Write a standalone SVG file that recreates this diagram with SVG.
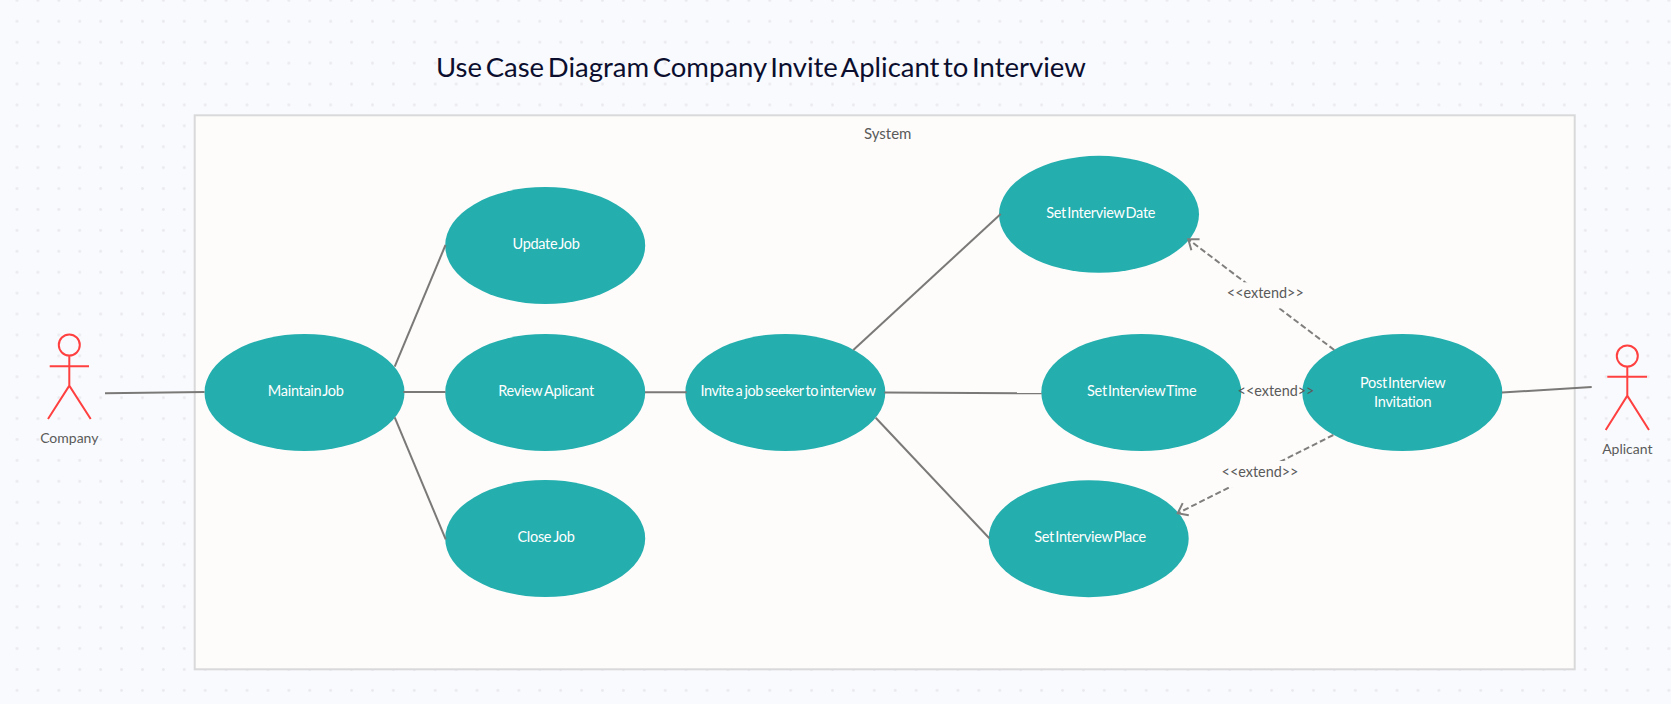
<svg xmlns="http://www.w3.org/2000/svg" width="1671" height="704" viewBox="0 0 1671 704">
<style>
text{font-family:Lato,"Noto Sans","Liberation Sans",sans-serif}
.uc{fill:#24aeae}
.ut{fill:#fff;font-size:14.5px;text-anchor:middle;letter-spacing:-.3px;word-spacing:-2.1px}
.lb{fill:#5a5a5a;font-size:14px;text-anchor:middle}
.ex{font-size:14.4px}
.ln{fill:none;stroke:#7b7977;stroke-width:2}
.ds{fill:none;stroke:#807e7c;stroke-width:2;stroke-dasharray:6 3}
.ac{fill:none;stroke:#ff4040;stroke-width:2}
.bg{fill:#fdfcfb}
</style>
<defs>
<pattern id="dots" patternUnits="userSpaceOnUse" x="6.55" y="-10.05" width="20.91" height="20.91"><circle cx="10.455" cy="10.455" r="1.4" fill="#e9e9ee"/></pattern>
<marker id="open" markerUnits="userSpaceOnUse" markerWidth="16" markerHeight="18" refX="10.5" refY="8" orient="auto"><path d="M1.5,1.2L10.5,8L1.5,14.8" fill="none" stroke="#807e7c" stroke-width="2"/></marker>
</defs>
<rect width="1671" height="704" fill="#f9fafd"/>
<rect width="1671" height="704" fill="url(#dots)"/>
<text x="436" y="77.3" font-size="27.5" fill="#0b0e2e" word-spacing="-3.4" id="title">Use Case Diagram Company Invite Aplicant to Interview</text>
<g id="system">
<rect x="194.7" y="115.3" width="1380" height="554" fill="#fdfcfb" stroke="#d9d9db" stroke-width="2"/>
<text x="887.7" y="139" class="lb" style="font-size:15px">System</text>
</g>
<g id="actor-company">
<circle cx="69.3" cy="345" r="10.5" class="ac"/>
<path d="M69.3,355.5V385.7M49.7,366.3H89M48,419L69.3,385.7L90.7,419" class="ac"/>
<text x="69.3" y="443.3" class="lb">Company</text>
</g>
<g id="actor-aplicant">
<circle cx="1627.3" cy="356" r="10.5" class="ac"/>
<path d="M1627.3,366.5V395.7M1607.3,376.7H1647M1605.7,430L1627.3,395.7L1649,430" class="ac"/>
<text x="1627.3" y="454" class="lb">Aplicant</text>
</g>
<g id="uc-maintain"><ellipse cx="304.5" cy="392.5" rx="100" ry="58.5" class="uc"/><text x="305.7" y="396" class="ut">Maintain Job</text></g>
<g id="uc-update"><ellipse cx="545.2" cy="245.5" rx="100" ry="58.5" class="uc"/><text x="546" y="249" class="ut">Update Job</text></g>
<g id="uc-review"><ellipse cx="545.2" cy="392.5" rx="100" ry="58.5" class="uc"/><text x="546" y="396" class="ut" style="word-spacing:-1px">Review Aplicant</text></g>
<g id="uc-close"><ellipse cx="545.2" cy="538.5" rx="100" ry="58.5" class="uc"/><text x="546" y="542" class="ut" style="word-spacing:-1px">Close Job</text></g>
<g id="uc-invite"><ellipse cx="785.3" cy="392.5" rx="100" ry="58.5" class="uc"/><text x="788" y="396" class="ut" style="letter-spacing:-.45px;word-spacing:-1.2px">Invite a job seeker to interview</text></g>
<g id="uc-date"><ellipse cx="1099" cy="214.3" rx="100" ry="58.5" class="uc"/><text x="1100.7" y="218" class="ut">Set Interview Date</text></g>
<g id="uc-time"><ellipse cx="1141.3" cy="392.5" rx="100" ry="58.5" class="uc"/><text x="1141.7" y="396" class="ut">Set Interview Time</text></g>
<g id="uc-place"><ellipse cx="1088.7" cy="538.7" rx="100" ry="58.5" class="uc"/><text x="1090" y="542.3" class="ut">Set Interview Place</text></g>
<g id="uc-post"><ellipse cx="1402.3" cy="392.5" rx="100" ry="58.5" class="uc"/><text x="1402.7" y="387.7" class="ut">Post Interview</text><text x="1402.7" y="406.7" class="ut">Invitation</text></g>
<g id="connectors">
<path class="ln" d="M105,393.3L204.5,392"/>
<path class="ln" d="M394.7,366.7L445.5,245"/>
<path class="ln" d="M403.3,392H445.5"/>
<path class="ln" d="M394.7,417.3L445.7,539.3"/>
<path class="ln" d="M645,392.3H686.7"/>
<path class="ln" d="M853.3,350L1000.7,214"/>
<path class="ln" d="M884.3,392.5L1041.7,393.3"/>
<path class="ln" d="M875.7,417.7L989.3,538.3"/>
<path class="ln" d="M1502,392.5L1591.7,387"/>
<path class="ds" d="M1334.3,350L1188.3,239.3" marker-end="url(#open)"/>
<path class="ds" d="M1333.3,435L1177.7,513.3" marker-end="url(#open)"/>
<rect class="bg" x="1226" y="282.3" width="78" height="26"/>
<rect class="bg" x="1221" y="461" width="78" height="26"/>
<text x="1265.3" y="298.3" class="lb ex">&lt;&lt;extend&gt;&gt;</text>
<text x="1276" y="395.7" class="lb ex">&lt;&lt;extend&gt;&gt;</text>
<text x="1260" y="476.7" class="lb ex">&lt;&lt;extend&gt;&gt;</text>
</g>
</svg>
